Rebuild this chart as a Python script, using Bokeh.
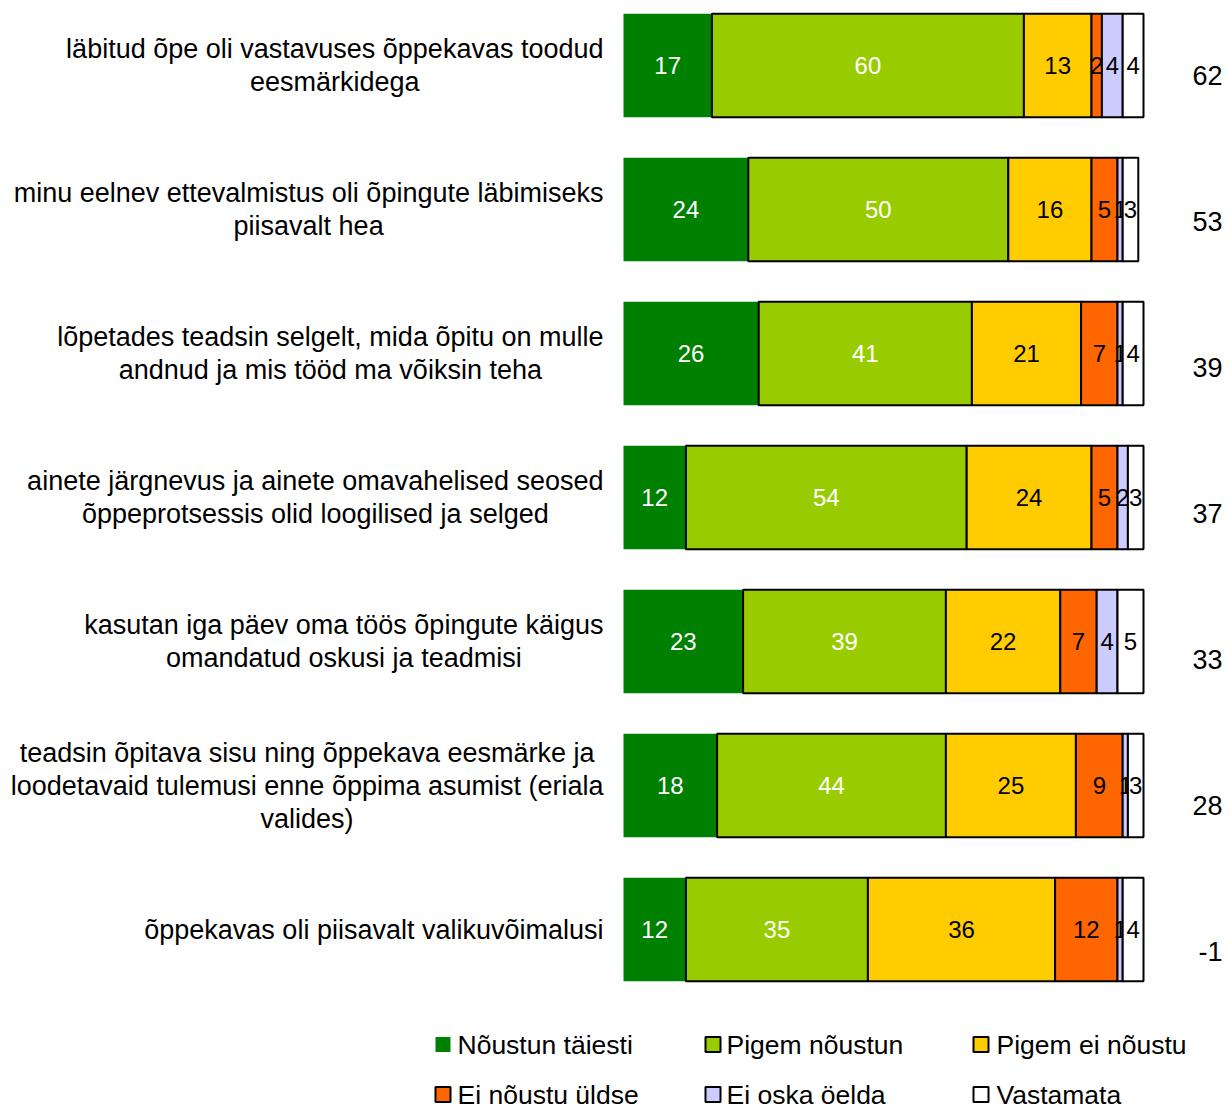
from bokeh.plotting import figure
from bokeh.models import Range1d
from bokeh.core.properties import value
from bokeh.embed import file_html
from bokeh.resources import INLINE

categories = [
    "läbitud õpe oli vastavuses õppekavas toodud\neesmärkidega",
    "minu eelnev ettevalmistus oli õpingute läbimiseks\npiisavalt hea",
    "lõpetades teadsin selgelt, mida õpitu on mulle\nandnud ja mis tööd ma võiksin teha",
    "ainete järgnevus ja ainete omavahelised seosed\nõppeprotsessis olid loogilised ja selged",
    "kasutan iga päev oma töös õpingute käigus\nomandatud oskusi ja teadmisi",
    "teadsin õpitava sisu ning õppekava eesmärke ja\nloodetavaid tulemusi enne õppima asumist (eriala\nvalides)",
    "õppekavas oli piisavalt valikuvõimalusi",
]
series_names = ["Nõustun täiesti", "Pigem nõustun", "Pigem ei nõustu",
                "Ei nõustu üldse", "Ei oska öelda", "Vastamata"]
noustun_taiesti = [17, 24, 26, 12, 23, 18, 12]
pigem_noustun = [60, 50, 41, 54, 39, 44, 35]
pigem_ei_noustu = [13, 16, 21, 24, 22, 25, 36]
ei_noustu_uldse = [2, 5, 7, 5, 7, 9, 12]
ei_oska_oelda = [4, 1, 1, 2, 4, 1, 1]
vastamata = [4, 3, 4, 3, 5, 3, 4]
net_values = [62, 53, 39, 37, 33, 28, -1]

series = [noustun_taiesti, pigem_noustun, pigem_ei_noustu,
          ei_noustu_uldse, ei_oska_oelda, vastamata]
colors = ["#008000", "#99CC00", "#FFCC00", "#FF6600", "#CCCCFF", "#FFFFFF"]
label_colors = ["white", "white", "black", "black", "black", "black"]
border_colors = [None, "black", "black", "black", "black", "black"]

W, H = 1223, 1109
X0PX, PXU = 623.0, 5.2          # canvas px of value 0, px per unit
Y0PX, ROWPX = 65.0, 144.0       # canvas px of row 0 centre, px per row

def px2x(px):
    return (px - X0PX) / PXU

def px2y(py):
    return (py - Y0PX) / ROWPX

FONT = value("Liberation Sans")

p = figure(width=W, height=H, output_backend="svg", toolbar_location=None,
           x_range=Range1d(px2x(0), px2x(W)), y_range=Range1d(px2y(H), px2y(0)),
           min_border=0, outline_line_color=None)
p.xaxis.visible = False
p.yaxis.visible = False
p.xgrid.visible = False
p.ygrid.visible = False

rows = list(range(len(categories)))
left = [0.0] * len(rows)
for s, vals in enumerate(series):
    right = [l + v for l, v in zip(left, vals)]
    p.hbar(y=rows, left=left, right=right, height=0.72,
           fill_color=colors[s], line_color=border_colors[s], line_width=2)
    mids = [(l + r) / 2 for l, r in zip(left, right)]
    p.text(x=mids, y=rows, text=[str(v) for v in vals], text_align="center",
           text_baseline="middle", text_font=FONT, text_font_size="24px",
           text_color=label_colors[s])
    left = right

# category labels
p.text(x=[px2x(603)] * len(rows), y=rows, text=categories, text_align="center",
       anchor="center_right", text_baseline="middle", text_font=FONT,
       text_font_size="27px", text_color="black", text_line_height=1.1)

# net values on the right
p.text(x=[px2x(1222)] * len(rows), y=[r + (10 + 2 * r) / ROWPX for r in rows],
       text=[str(v) for v in net_values], text_align="right",
       text_baseline="middle", text_font=FONT, text_font_size="27px",
       text_color="black")

# legend
sq_x = [442.5, 712.5, 980.5]
txt_x = [457, 726, 996]
leg_y = [1044, 1094]
for s, name in enumerate(series_names):
    c, r = s % 3, s // 3
    p.rect(x=[px2x(sq_x[c])], y=[px2y(leg_y[r])], width=15, height=15,
           width_units="screen", height_units="screen", fill_color=colors[s],
           line_color=border_colors[s], line_width=2)
    p.text(x=[px2x(txt_x[c])], y=[px2y(leg_y[r])], text=[name],
           text_align="left", text_baseline="middle", text_font=FONT,
           text_font_size="26.5px", text_color="black")

open("out.html", "w").write(file_html(p, INLINE))
